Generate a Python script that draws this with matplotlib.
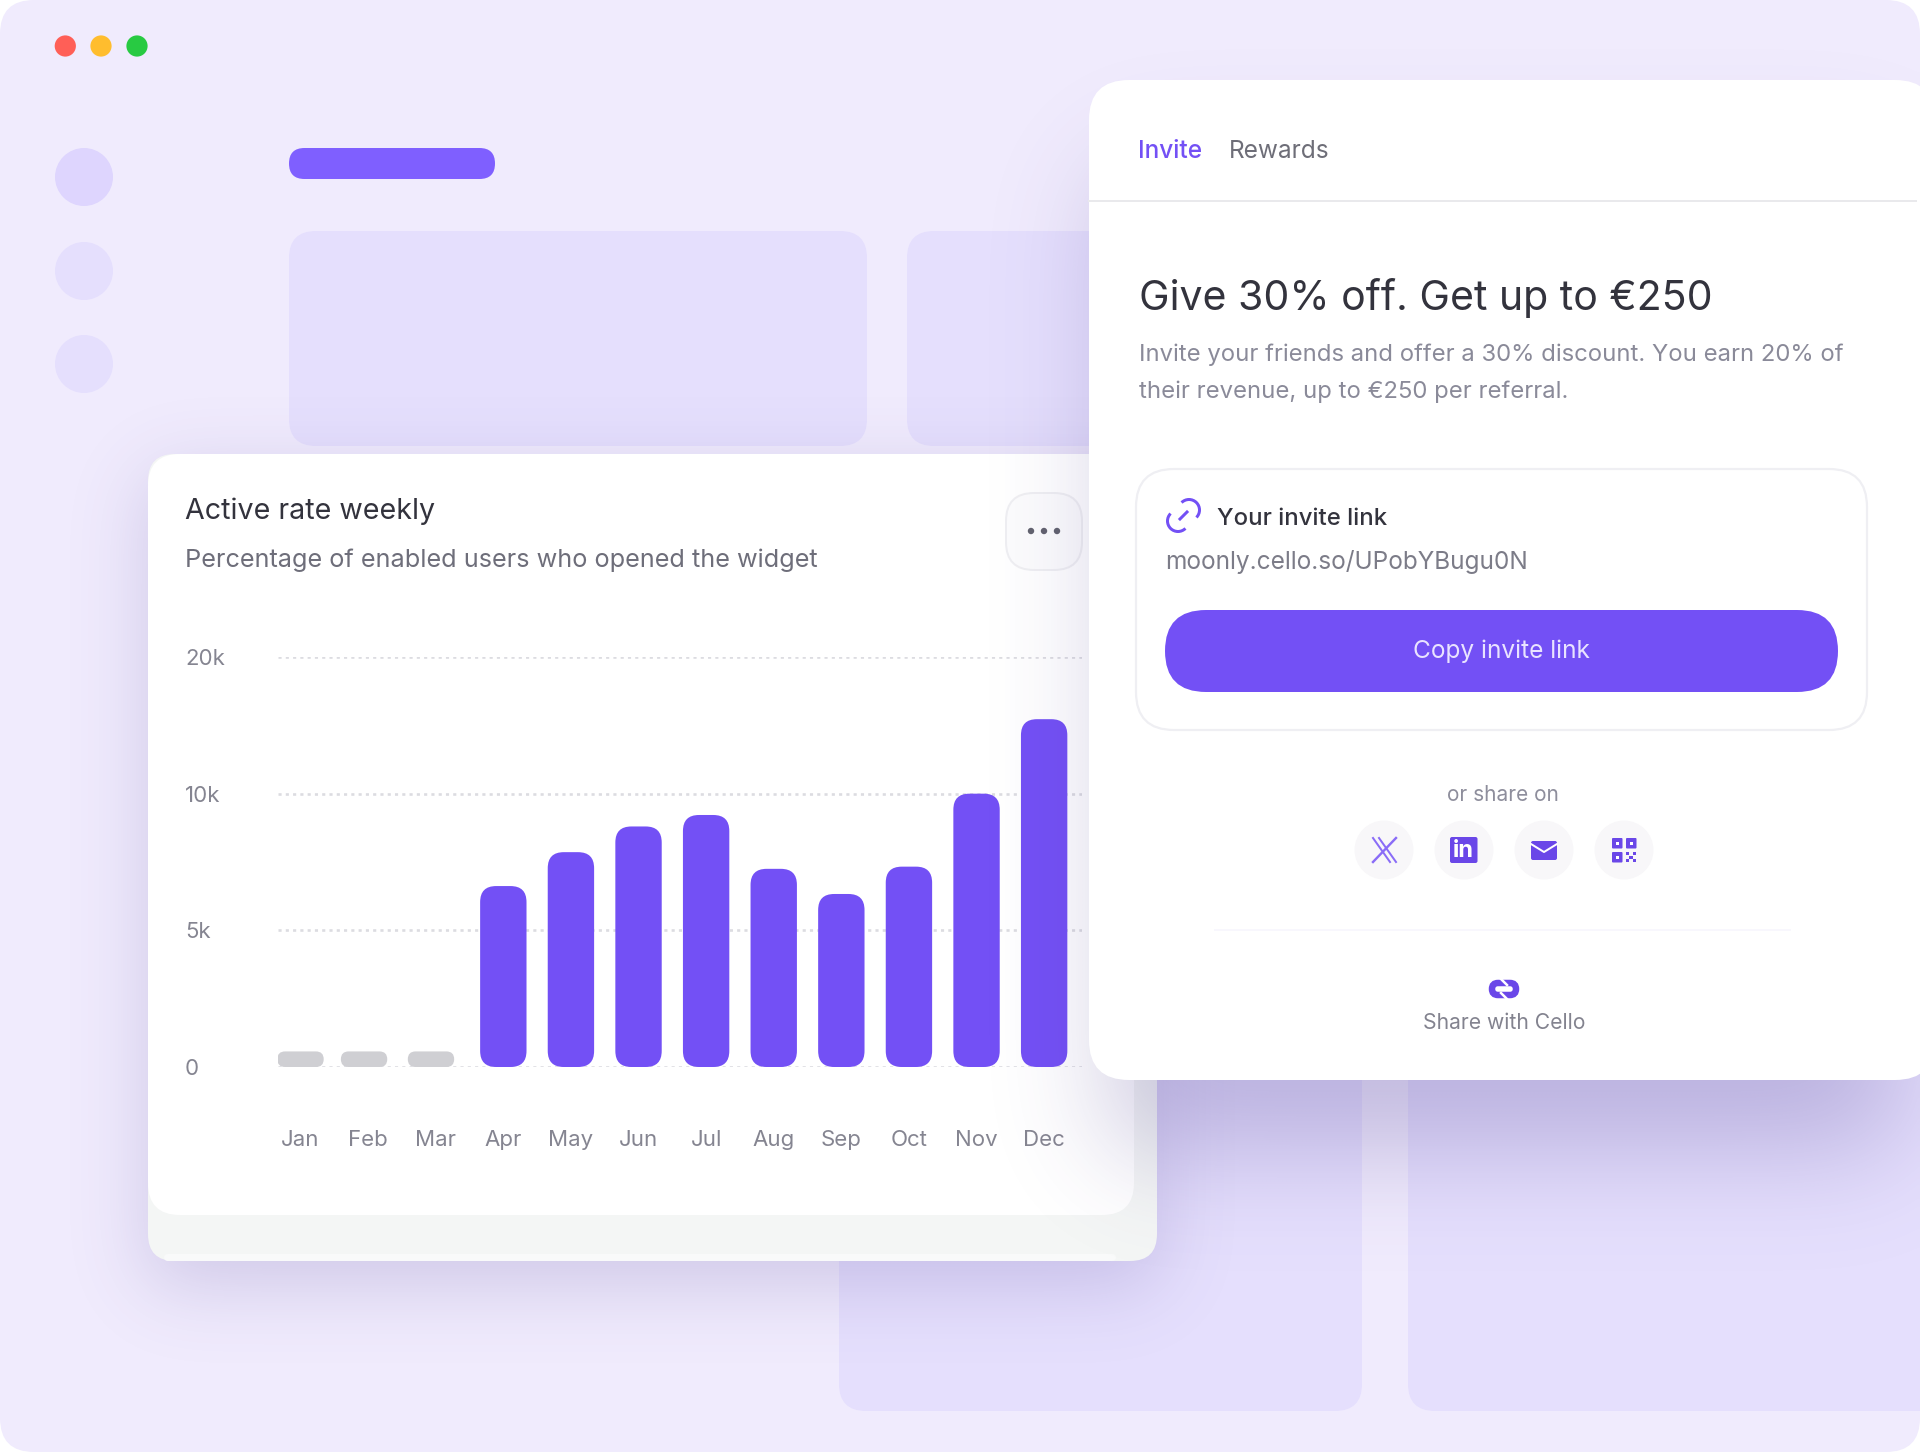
from math import erf

import numpy as np
import matplotlib
matplotlib.use("Agg")
import matplotlib.colors as mcolors
import matplotlib.pyplot as plt
from matplotlib.patches import FancyBboxPatch, Circle, Arc, Rectangle
from matplotlib.transforms import IdentityTransform

plt.rcParams["font.family"] = ["Inter", "DejaVu Sans"]

# chart values
months = ["Jan", "Feb", "Mar", "Apr", "May", "Jun", "Jul", "Aug", "Sep", "Oct", "Nov", "Dec"]
active_rate = [570, 570, 570, 6620, 7860, 8800, 9220, 7250, 6330, 7330, 10000, 15450]
bar_nudge = [0, -0.06, -0.07, 0, 0, 0, 0, 0, 0, 0, 0, 0]
y_ticks = [0, 5000, 10000, 20000]
y_tick_labels = ["0", "5k", "10k", "20k"]

PURPLE = "#7350F5"
INK = "#33333D"
BG = "#F0EBFD"
TILE = "#E5DFFD"
PX = 0.72  # 1px in points at dpi 100


def new_layer(fig, zorder):
    ax = fig.add_axes([0, 0, 1, 1], zorder=zorder)
    ax.set_xlim(0, 1920)
    ax.set_ylim(1452, 0)
    ax.axis("off")
    ax.patch.set_alpha(0)
    return ax


def box(ax, x0, y0, x1, y1, r, color, edge="none", lw=0, zorder=2):
    p = FancyBboxPatch((x0, y0), x1 - x0, y1 - y0, boxstyle=f"round,pad=0,rounding_size={r}",
                       facecolor=color, edgecolor=edge, linewidth=lw * PX, zorder=zorder)
    ax.add_patch(p)
    return p


def soft_shadow(ax, x0, y0, x1, y1, sigma, color, alpha, zorder=1):
    # blurred rectangle, product of two erf edges
    verf = np.vectorize(erf)
    xx = np.arange(0, 1920, 4) + 2.0
    yy = np.arange(0, 1452, 4) + 2.0
    k = sigma * np.sqrt(2)
    fx = (verf((xx - x0) / k) - verf((xx - x1) / k)) / 2
    fy = (verf((yy - y0) / k) - verf((yy - y1) / k)) / 2
    img = np.zeros((len(yy), len(xx), 4))
    img[..., :3] = mcolors.to_rgb(color)
    img[..., 3] = np.outer(fy, fx) * alpha
    ax.imshow(img, extent=(0, 1920, 1452, 0), origin="upper", aspect="auto",
              interpolation="bilinear", zorder=zorder)
    ax.set_xlim(0, 1920)
    ax.set_ylim(1452, 0)


def label(ax, x, y, s, size, color, ha="left", weight="normal"):
    ax.text(x, y, s, fontsize=size, color=color, ha=ha, va="center", fontweight=weight, zorder=10)


fig = plt.figure(figsize=(19.2, 14.52), dpi=100, facecolor="white")

# window background
back = new_layer(fig, 0)
box(back, 0, 0, 1920, 1452, 34, BG, zorder=0)
for cx, c in zip([65.3, 101, 137], ["#FF5F57", "#FFBD2E", "#28CA42"]):
    back.add_patch(Circle((cx, 46), 10.6, color=c, lw=0))
for cy, c in zip([177, 271, 364], ["#DED5FE", TILE, TILE]):
    back.add_patch(Circle((84, cy), 29, color=c, lw=0))
box(back, 289, 148, 495, 179, 15.5, "#7F5FFF")
box(back, 289, 231, 867, 446, 27, TILE)
box(back, 907, 231, 1180, 446, 27, TILE)
box(back, 839, 1000, 1362, 1411, 27, TILE)
box(back, 1408, 1000, 1960, 1411, 27, TILE)

# chart card
soft_shadow(back, 148, 475, 1157, 1285, 38, "#4A3A90", 0.2, zorder=3)
box(back, 148, 454, 1157, 1261, 27, "#F4F6F5", zorder=4)
box(back, 164, 1254, 1116, 1261, 4, "#F9FAFA", zorder=4.5)
box(back, 148, 454, 1134, 1215, 32, "white", zorder=5)
label(back, 185, 511, "Active rate weekly", 20.6, INK)
label(back, 185, 560, "Percentage of enabled users who opened the widget", 18.2, "#6E6E7A")

# bar chart on its own axes, the y axis has equal steps for 0, 5k, 10k, 20k
ax = fig.add_axes([278 / 1920, 1 - 1067 / 1452, (1082 - 278) / 1920, (1067 - 657) / 1452], zorder=1)
ax.patch.set_alpha(0)
ax.set_yscale("function", functions=(lambda v: np.interp(v, y_ticks, range(4)),
                                     lambda t: np.interp(t, range(4), y_ticks)))
ax.set_ylim(0, 20000)
ax.set_xlim(-0.333, 11.56)
for s in ax.spines.values():
    s.set_visible(False)
ax.set_yticks(y_ticks, y_tick_labels)
ax.set_xticks(range(12), months)
ax.tick_params(axis="y", length=0, pad=93 * PX, labelsize=16, labelcolor="#858591")
ax.tick_params(axis="x", length=0, pad=62.5 * PX, labelsize=16, labelcolor="#858591")
for t in ax.get_yticklabels():
    t.set_ha("left")
ax.grid(True, axis="y", color="#DCDCE1", linewidth=2.6 * PX, linestyle=(0, (1.2, 1.6)), zorder=1)
ax.set_axisbelow(True)

xs = np.arange(12) + np.array(bar_nudge)
rects = ax.bar(xs, active_rate, width=0.686)
fig.canvas.draw()
for i, rect in enumerate(rects):
    bb = rect.get_window_extent()
    rect.set_visible(False)
    c = "#CFCFD3" if i < 3 else PURPLE
    r = min(16, bb.height / 2)
    ax.add_patch(FancyBboxPatch((bb.x0, bb.y0), bb.width, bb.height, boxstyle=f"round,pad=0,rounding_size={r}",
                                transform=IdentityTransform(), facecolor=c, edgecolor="none", zorder=3))

# everything above the chart: menu button, panel
top = new_layer(fig, 2)
box(top, 1006, 493, 1082, 570, 28, "#FCFCFD", edge="#EFEFF2", lw=2)
for dx in (-13, 0, 13):
    top.add_patch(Circle((1044 + dx, 531), 3.2, color="#62626E", lw=0, zorder=3))

soft_shadow(top, 1110, 170, 1900, 1150, 55, "#4A3A90", 0.28, zorder=3.5)
box(top, 1089, 80, 1935, 1080, 40, "white", zorder=4)


def plabel(x, y, s, size, color, ha="left", weight="normal"):
    label(top, x, y, s, size, color, ha, weight)


plabel(1137.5, 152, "Invite", 17.6, PURPLE, weight="medium")
plabel(1229, 152, "Rewards", 17.6, "#6E6E78")
top.plot([1089, 1916], [201, 201], color="#E9E9EC", lw=2 * PX, zorder=5)
plabel(1139, 298.2, "Give 30% off. Get up to €250", 29.5, INK)
plabel(1139, 354.7, "Invite your friends and offer a 30% discount. You earn 20% of", 17.2, "#8A8A99")
plabel(1139, 391.7, "their revenue, up to €250 per referral.", 17.2, "#8A8A99")

box(top, 1136, 469, 1867, 730, 38, "white", edge="#EFEFF3", lw=2.2, zorder=5)
top.add_patch(Arc((1189, 510), 21, 21, theta1=225, theta2=45 + 360, color=PURPLE, lw=3 * PX, zorder=6))
top.add_patch(Arc((1178, 521), 21, 21, theta1=45, theta2=225, color=PURPLE, lw=3 * PX, zorder=6))
top.plot([1180, 1187], [519, 512], color=PURPLE, lw=3 * PX, zorder=6)
plabel(1217, 519, "Your invite link", 17.2, INK, weight="medium")
plabel(1165, 561.5, "moonly.cello.so/UPobYBugu0N", 17.6, "#7C7C88")
box(top, 1165, 610, 1838, 692, 41, PURPLE, zorder=6)
plabel(1501, 651.2, "Copy invite link", 17.6, "#E9E3FF", ha="center")

plabel(1502.5, 795, "or share on", 15, "#8E8E9C", ha="center")
for cx in (1384, 1464, 1544, 1624):
    top.add_patch(Circle((cx, 850), 29.5, color="#F8F7F9", lw=0, zorder=5))
# X icon
top.plot([1373, 1390], [838, 862], color="#8A6CF7", lw=2 * PX, zorder=6)
top.plot([1379, 1396], [838, 862], color="#8A6CF7", lw=2 * PX, zorder=6)
top.plot([1396, 1373], [838, 862], color="#8A6CF7", lw=2.4 * PX, zorder=6)
# linkedin icon
box(top, 1450, 837, 1477.5, 863, 2, "#6A47E8", zorder=6)
top.text(1463.7, 851, "in", fontsize=17, color="white", fontweight="bold", ha="center", va="center", zorder=7)
# mail icon
box(top, 1531, 841, 1557, 860, 2, "#6A47E8", zorder=6)
top.plot([1531, 1544, 1557], [844, 852, 844], color="white", lw=2 * PX, zorder=7)
# qr icon
for qx, qy in [(1612, 838), (1626, 838), (1612, 852)]:
    box(top, qx, qy, qx + 10.5, qy + 10.5, 1, "#6A47E8", zorder=6)
    top.add_patch(Rectangle((qx + 3.7, qy + 3.7), 3, 3, color="white", lw=0, zorder=7))
for qx, qy in [(1626, 852), (1632.5, 852), (1629.2, 855.5), (1626, 859), (1632.5, 859)]:
    top.add_patch(Rectangle((qx, qy), 3.3, 3.3, color="#6A47E8", lw=0, zorder=6))

top.plot([1215, 1790], [930, 930], color="#F8F7FD", lw=2 * PX, zorder=5)
# cello logo
box(top, 1492, 983, 1516, 995, 6, "none", edge="#6A47E8", lw=6.5, zorder=6)
top.plot([1500, 1507], [978, 985], color="white", lw=2.5 * PX, zorder=7)
top.plot([1501, 1508], [993, 1000], color="white", lw=2.5 * PX, zorder=7)
plabel(1504, 1023, "Share with Cello", 15.2, "#83838F", ha="center")

fig.savefig("out.png", dpi=100)
